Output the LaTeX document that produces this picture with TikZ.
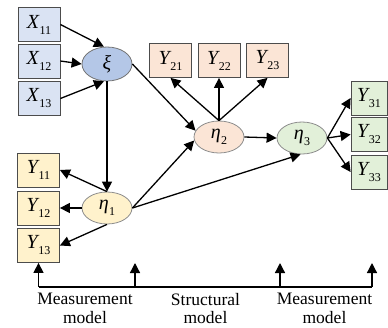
\documentclass[tikz,border=0pt]{standalone}
\usepackage{fontspec}
\setmainfont{Liberation Serif}
\newfontfamily\lblfont{Liberation Serif}
\usetikzlibrary{shapes.geometric,arrows.meta}
\definecolor{cblue}{HTML}{DAE3F3}
\definecolor{cxi}{HTML}{B4C7E7}
\definecolor{cyel}{HTML}{FFF2CC}
\definecolor{cpeach}{HTML}{FBE5D6}
\definecolor{cgreen}{HTML}{E2F0D9}
\newcommand\lbl[2]{{\lblfont\itshape #1}\kern0.5pt\raisebox{-0.3em}{\lblfont\fontsize{12}{12}\selectfont #2}}
\begin{document}
\begin{tikzpicture}[x=1pt,y=-1pt,
  box/.style={draw=black!70,line width=0.8pt,minimum width=42pt,minimum height=34pt,inner sep=0pt,font=\fontsize{20}{20}\selectfont},
  narrowbox/.style={box,minimum width=36pt},
  lat/.style={ellipse,draw=black!45,line width=0.8pt,minimum width=50pt,minimum height=32pt,inner sep=0pt,font=\fontsize{20}{20}\selectfont},
  arr/.style={-{Triangle[length=10pt,width=10pt]},line width=1.3pt},
  captxt/.style={align=center,anchor=north,inner sep=0pt,font=\fontsize{17.5}{18.5}\selectfont}]
\useasboundingbox (0,0) rectangle (388,327);
% X boxes
\node[box,fill=cblue] (X11) at (39,24.5) {\lbl{X}{11}};
\node[box,fill=cblue] (X12) at (39,61) {\lbl{X}{12}};
\node[box,fill=cblue] (X13) at (39,98.5) {\lbl{X}{13}};
% Y1 boxes
\node[box,fill=cyel] (Y11) at (38.5,170) {\lbl{Y}{11}};
\node[box,fill=cyel] (Y12) at (38.5,208) {\lbl{Y}{12}};
\node[box,fill=cyel] (Y13) at (38.5,245.5) {\lbl{Y}{13}};
% Y2 boxes
\node[box,fill=cpeach] (Y21) at (170.5,60.5) {\lbl{Y}{21}};
\node[box,fill=cpeach] (Y22) at (219,60.5) {\lbl{Y}{22}};
\node[box,fill=cpeach] (Y23) at (267.5,60.5) {\lbl{Y}{23}};
% Y3 boxes
\node[narrowbox,fill=cgreen] (Y31) at (369,98) {\lbl{Y}{31}};
\node[narrowbox,fill=cgreen] (Y32) at (369,134.5) {\lbl{Y}{32}};
\node[narrowbox,fill=cgreen] (Y33) at (369,172) {\lbl{Y}{33}};
% latent
\node[lat,fill=cxi,draw=black!55,minimum height=34pt] (xi) at (107,64) {\lblfont\itshape ξ};
\node[lat,fill=cyel] (eta1) at (107,208) {\lbl{η}{1}};
\node[lat,fill=cpeach] (eta2) at (219,137) {\lbl{η}{2}};
\node[lat,fill=cgreen] (eta3) at (302,138) {\lbl{η}{3}};
% arrows
\draw[arr] (X11.east) -- (xi.100);
\draw[arr] (X12.east) -- (xi.west);
\draw[arr] (X13.east) -- (xi.260);
\draw[arr] (xi.south) -- (eta1.north);
\draw[arr] (xi.east) -- (eta2.165);
\draw[arr] (eta1.north) -- (Y11.east);
\draw[arr] (eta1.west) -- (Y12.east);
\draw[arr] (eta1.south) -- (Y13.east);
\draw[arr] (eta1.east) -- (eta2.188);
\draw[arr] (eta1.east) -- (eta3.265);
\draw[arr] (eta2.north) -- (Y21.south);
\draw[arr] (eta2.north) -- (Y22.south);
\draw[arr] (eta2.north) -- (Y23.south);
\draw[arr] (eta2.east) -- (eta3.west);
\draw[arr] (eta3.east) -- (Y31.west);
\draw[arr] (eta3.east) -- (Y32.west);
\draw[arr] (eta3.east) -- (Y33.west);
% bottom axis
\coordinate (a0) at (38.5,287);
\coordinate (a1) at (135,287);
\coordinate (a2) at (280,287);
\coordinate (a3) at (372,287);
\coordinate (t1) at (135,263);
\coordinate (t2) at (280,263);
\coordinate (t3) at (372,263);
\draw[line width=1.3pt] (a0) -- (a3);
\draw[arr] (a0) -- (Y13.south);
\draw[arr] (a1) -- (t1);
\draw[arr] (a2) -- (t2);
\draw[arr] (a3) -- (t3);
\node[captxt] (c1) at (85,293) {Measurement\\model};
\node[captxt] (c2) at (205.5,293) {Structural\\model};
\node[captxt] (c3) at (324.5,293) {Measurement\\model};
\end{tikzpicture}
\end{document}
